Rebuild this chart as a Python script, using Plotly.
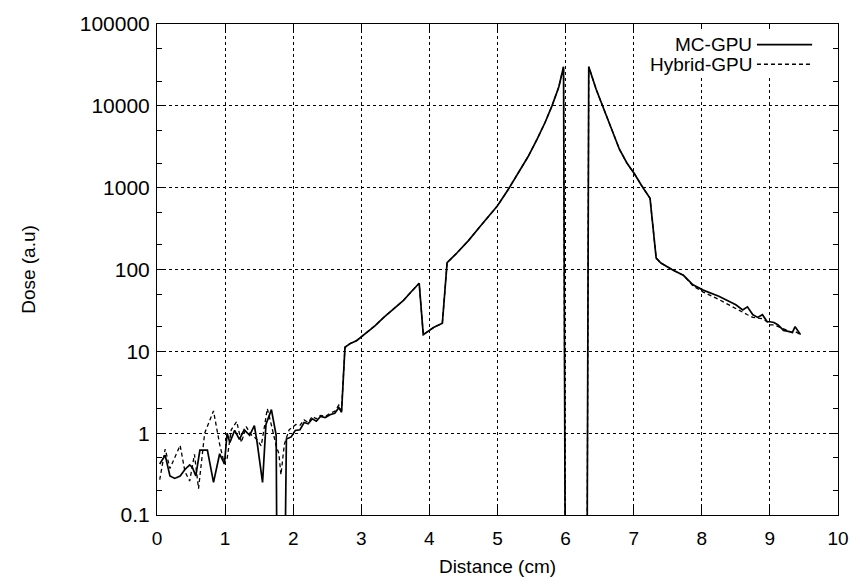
import plotly.graph_objects as go

# ---- data ----
mc_head_x = [0.04, 0.12, 0.19, 0.26, 0.34, 0.41, 0.48, 0.52, 0.57, 0.63, 0.74, 0.83, 0.92, 0.99, 1.03,
             1.07, 1.14, 1.21, 1.28, 1.36, 1.43, 1.47, 1.55, 1.60, 1.68, 1.72, 1.75, 1.77, 1.86, 1.90,
             1.97, 2.03, 2.10, 2.16, 2.22, 2.28, 2.34, 2.40, 2.47, 2.54, 2.61, 2.67, 2.71]
mc_head_y = [0.42, 0.54, 0.30, 0.28, 0.30, 0.36, 0.41, 0.38, 0.30, 0.62, 0.62, 0.25, 0.56, 0.42, 1.0,
             0.77, 1.08, 0.84, 1.1, 0.94, 1.24, 0.77, 0.25, 1.28, 1.94, 1.24, 0.94, 0.001, 0.001, 0.85,
             0.9, 1.08, 1.1, 1.35, 1.3, 1.5, 1.4, 1.6, 1.55, 1.68, 1.75, 2.05, 1.8]

hy_head_x = [0.04, 0.12, 0.19, 0.34, 0.41, 0.48, 0.55, 0.61, 0.70, 0.83, 0.92, 0.99, 1.03, 1.09, 1.17,
             1.24, 1.31, 1.38, 1.46, 1.53, 1.57, 1.62, 1.68, 1.75, 1.79, 1.82, 1.87, 1.94, 2.04, 2.10,
             2.16, 2.22, 2.28, 2.34, 2.40, 2.47, 2.54, 2.61, 2.67, 2.71]
hy_head_y = [0.27, 0.64, 0.37, 0.71, 0.34, 0.26, 0.55, 0.21, 1.0, 1.87, 0.73, 0.42, 0.49, 1.1, 1.39,
             0.77, 1.2, 0.96, 0.85, 0.7, 1.1, 2.0, 1.25, 0.7, 0.56, 0.31, 0.73, 1.1, 1.28, 1.25,
             1.45, 1.35, 1.6, 1.5, 1.65, 1.6, 1.75, 1.85, 2.2, 1.9]

mid_x = [2.76, 2.84, 2.93, 3.0, 3.1, 3.2, 3.33, 3.45, 3.55, 3.62, 3.72, 3.85, 3.91, 3.98, 4.06,
         4.19, 4.26, 4.4, 4.57, 4.75, 4.9, 5.0, 5.15, 5.3, 5.45, 5.58, 5.7, 5.8, 5.9, 5.97,
         6.0, 6.31, 6.34, 6.45, 6.56, 6.68, 6.79, 6.9, 7.01, 7.12, 7.24, 7.33, 7.4, 7.58, 7.73]
mid_y = [11.2, 12.5, 13.5, 15, 17.5, 20.5, 26, 32, 37, 42, 52, 68, 16, 17.5, 19.5,
         22, 121, 158, 224, 340, 480, 600, 930, 1480, 2400, 3900, 6300, 10000, 17000, 30000,
         0.001, 0.001, 30000, 15800, 9300, 5200, 2950, 2000, 1480, 1050, 740, 138, 120, 98, 85]

tail_x = [7.87, 8.02, 8.25, 8.5, 8.6, 8.67, 8.75, 8.82, 8.89, 8.96, 9.0, 9.06, 9.12, 9.2, 9.27, 9.33, 9.37, 9.45]
mc_tail_y = [65, 56, 47, 37, 32, 35, 28, 26, 28, 23, 23, 22.5, 21, 18, 17.5, 17, 20, 16]
hy_tail_y = [63, 53, 43, 33, 30, 28, 26, 25.5, 25, 23, 21, 21, 20, 18.5, 17.5, 17, 17.5, 16]

series_names = ["MC-GPU", "Hybrid-GPU"]
x_ticks = list(range(0, 11))
y_tickvals = [0.1, 1, 10, 100, 1000, 10000, 100000]
y_ticktext = ["0.1", "1", "10", "100", "1000", "10000", "100000"]

mc_x = mc_head_x + mid_x + tail_x
mc_y = mc_head_y + mid_y + mc_tail_y
hy_x = hy_head_x + mid_x + tail_x
hy_y = hy_head_y + mid_y + hy_tail_y

FONT = "Liberation Sans, Arial, sans-serif"

fig = go.Figure()
fig.add_trace(go.Scatter(x=mc_x, y=mc_y, mode="lines", name=series_names[0],
                         line=dict(color="black", width=1.7), showlegend=False))
fig.add_trace(go.Scatter(x=hy_x, y=hy_y, mode="lines", name=series_names[1],
                         line=dict(color="black", width=1.3, dash="4px,3px"), showlegend=False))

axis_common = dict(
    showline=True, linecolor="black", linewidth=1, mirror="ticks",
    ticks="inside", ticklen=8, tickcolor="black", tickwidth=1,
    showgrid=True, gridcolor="black", griddash="dot", gridwidth=1,
    zeroline=False,
)

fig.update_xaxes(range=[0, 10], tickvals=x_ticks, ticktext=[str(v) for v in x_ticks],
                 tickfont=dict(family=FONT, size=19, color="black"),
                 title=dict(text="Distance (cm)", font=dict(family=FONT, size=19, color="black"),
                            standoff=11),
                 ticklabelstandoff=6, **axis_common)
fig.update_yaxes(type="log", range=[-1, 5], tickvals=y_tickvals, ticktext=y_ticktext,
                 tickfont=dict(family=FONT, size=21, color="black"),
                 minor=dict(ticks="inside", ticklen=5, tickcolor="black", dtick="D2", showgrid=False),
                 title=dict(text="Dose (a.u)", font=dict(family=FONT, size=19, color="black"),
                            standoff=39),
                 ticklabelstandoff=2, **axis_common)

# opaque key box (gnuplot style) hiding the grid behind the key
fig.add_shape(type="rect", xref="paper", yref="paper", x0=0.715, x1=0.975, y0=0.895, y1=0.99,
              fillcolor="white", line=dict(width=0), layer="above")

# legend drawn gnuplot-style: text right-aligned, sample line on the right
legend_rows = [(series_names[0], 0.958, "solid", 1.7), (series_names[1], 0.918, "4px,3px", 1.3)]
for name, yy, dash, w in legend_rows:
    fig.add_annotation(x=0.877, y=yy, xref="paper", yref="paper", text=name, showarrow=False,
                       xanchor="right", yanchor="middle",
                       font=dict(family=FONT, size=19, color="black"))
    fig.add_shape(type="line", xref="paper", yref="paper", x0=0.881, x1=0.962, y0=yy, y1=yy,
                  line=dict(color="black", width=w, dash=dash), layer="above")

fig.update_layout(
    width=861, height=585, autosize=False,
    margin=dict(l=157, r=18, t=20, b=66),
    plot_bgcolor="white", paper_bgcolor="white",
    font=dict(family=FONT, size=19, color="black"),
)

fig.write_html("out.html", config={"displayModeBar": False},
               post_script="document.body.style.margin='0px';")
